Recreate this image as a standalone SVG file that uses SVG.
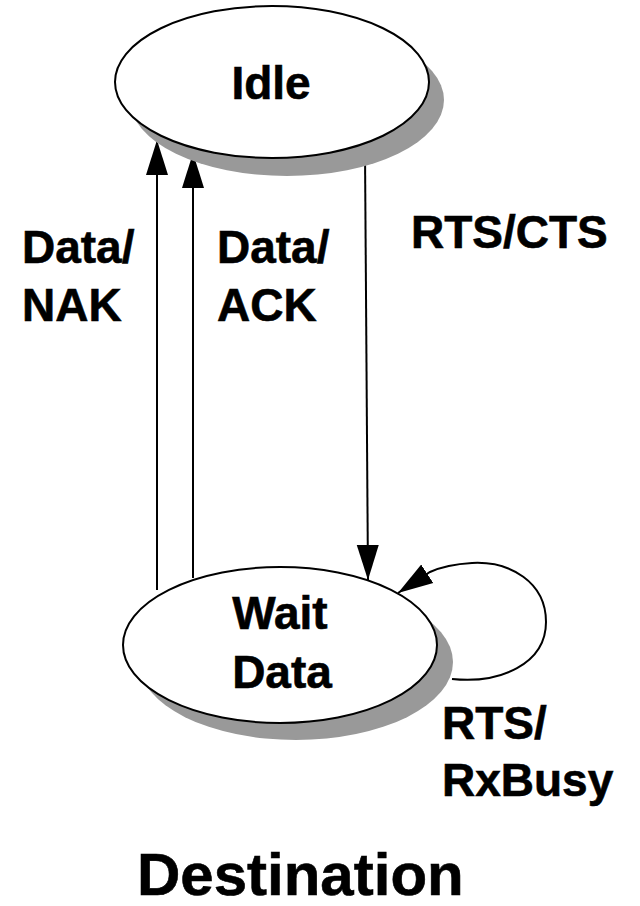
<svg xmlns="http://www.w3.org/2000/svg" width="640" height="906" viewBox="0 0 640 906">
  <style>
    .shadow { fill: #999999; stroke: none; }
    .state { fill: #ffffff; stroke: #000000; stroke-width: 2; }
    .edge { fill: none; stroke: #000000; stroke-width: 2; }
    text { font-family: "Liberation Sans", Arial, sans-serif; font-weight: bold; fill: #000000; stroke: #000000; stroke-width: 0.6; }
    .lbl { font-size: 46px; }
    .title { font-size: 60px; }
  </style>
  <defs>
    <marker id="arrow" markerUnits="userSpaceOnUse" markerWidth="38" markerHeight="26" viewBox="0 -13 38 26" refX="35" refY="0" orient="auto">
      <path d="M0,-11 L35,0 L0,11 z" fill="#000000"/>
    </marker>
  </defs>

  <!-- connectors -->
  <g id="connectors">
    <path class="edge" d="M157,590 L157,140" marker-end="url(#arrow)"/>
    <path class="edge" d="M193,578 L193,153" marker-end="url(#arrow)"/>
    <path class="edge" d="M365,152 L368,580" marker-end="url(#arrow)"/>
    <path class="edge" d="M452,679 C500,684 546,664 546,622 C546,582 510,561 472,563 C455,564 441,567 430,572 L398,593" marker-end="url(#arrow)"/>
  </g>

  <g id="idle">
    <ellipse class="shadow" cx="287" cy="100" rx="157" ry="76"/>
    <ellipse class="state" cx="272" cy="82" rx="157" ry="76"/>
    <text class="lbl" x="271" y="99" text-anchor="middle">Idle</text>
  </g>

  <g id="wait-data">
    <ellipse class="shadow" cx="296" cy="662" rx="157" ry="78"/>
    <ellipse class="state" cx="280" cy="645" rx="157" ry="78"/>
    <text class="lbl" x="280" y="629" text-anchor="middle">Wait</text>
    <text class="lbl" x="282" y="688" text-anchor="middle">Data</text>
  </g>

  <g id="labels">
    <text class="lbl" x="22" y="263">Data/</text>
    <text class="lbl" x="22" y="321">NAK</text>
    <text class="lbl" x="217" y="263">Data/</text>
    <text class="lbl" x="217" y="321">ACK</text>
    <text class="lbl" x="411" y="248">RTS/CTS</text>
    <text class="lbl" x="442" y="739">RTS/</text>
    <text class="lbl" x="442" y="796">RxBusy</text>
  </g>

  <text class="title" x="137" y="895">Destination</text>
</svg>
